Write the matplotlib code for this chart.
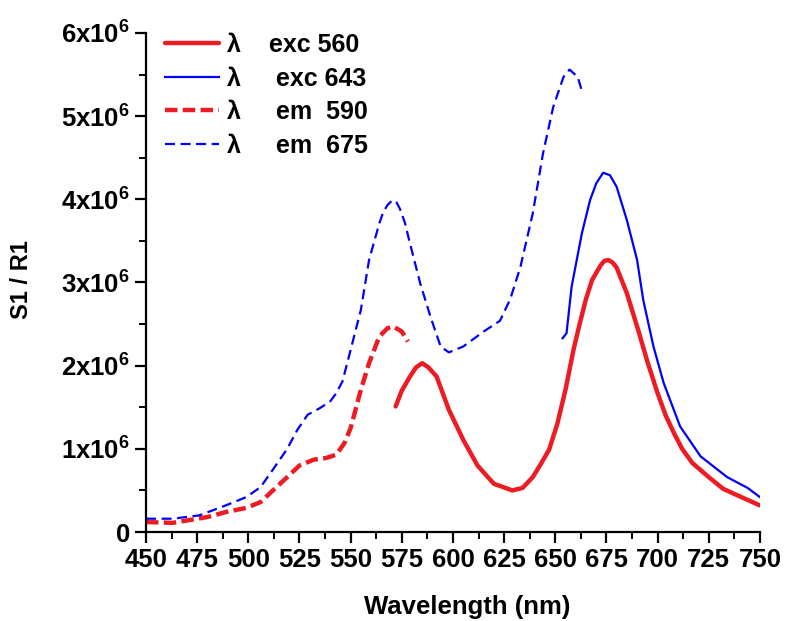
import matplotlib
matplotlib.use("Agg")
import matplotlib.pyplot as plt
from matplotlib.ticker import MultipleLocator, FixedLocator

# --- data (wavelength nm, signal in units of 1e6) ---
em590_x = [450, 463, 480, 489, 499, 506, 512, 519, 525, 532, 538, 543, 547, 550, 555, 559, 564, 568, 571, 575, 578]
em590_y = [0.12, 0.11, 0.18, 0.24, 0.29, 0.36, 0.50, 0.66, 0.80, 0.87, 0.89, 0.93, 1.07, 1.25, 1.71, 2.03, 2.35, 2.45, 2.47, 2.41, 2.29]

exc560_x = [572, 575, 579, 582, 585, 588, 592, 598, 605, 612, 620, 629, 634, 639, 643, 647, 651, 655, 659, 662, 665, 668, 672, 674, 676, 678, 680, 685, 691, 695, 700, 704, 708, 712, 717, 725, 732, 740, 750]
exc560_y = [1.51, 1.70, 1.87, 1.98, 2.03, 1.98, 1.87, 1.47, 1.11, 0.80, 0.58, 0.50, 0.53, 0.66, 0.82, 0.99, 1.30, 1.71, 2.20, 2.51, 2.80, 3.03, 3.20, 3.26, 3.27, 3.24, 3.18, 2.87, 2.39, 2.05, 1.67, 1.40, 1.19, 1.00, 0.83, 0.66, 0.52, 0.43, 0.32]

exc643_x = [653.6, 655.5, 658, 663, 667, 670, 673.4, 676.7, 680, 685, 690, 693, 698, 703, 711, 721, 734, 744, 750]
exc643_y = [2.33, 2.39, 2.95, 3.59, 3.99, 4.19, 4.32, 4.29, 4.15, 3.75, 3.27, 2.79, 2.23, 1.79, 1.27, 0.91, 0.66, 0.53, 0.42]

em675_x = [450, 463, 476, 489, 499, 506, 512, 519, 524, 529, 535, 540, 543, 546, 550, 555, 559, 564, 566, 568, 570, 571, 572.5, 574, 576.5, 579, 584, 589, 594, 598, 605, 615, 623, 628, 633, 639, 644, 649, 654, 657, 661, 663.4]
em675_y = [0.16, 0.16, 0.20, 0.32, 0.42, 0.54, 0.75, 1.00, 1.23, 1.41, 1.49, 1.57, 1.67, 1.81, 2.19, 2.67, 3.27, 3.71, 3.85, 3.93, 3.98, 3.99, 3.96, 3.89, 3.72, 3.47, 2.99, 2.59, 2.23, 2.16, 2.23, 2.41, 2.54, 2.80, 3.19, 3.83, 4.55, 5.11, 5.47, 5.56, 5.47, 5.27]

yticks = [0, 1, 2, 3, 4, 5, 6]
ytick_labels = ["0", "1x10$^{6}$", "2x10$^{6}$", "3x10$^{6}$", "4x10$^{6}$", "5x10$^{6}$", "6x10$^{6}$"]
xticks = list(range(450, 751, 25))

plt.rcParams["font.family"] = ["Liberation Sans", "DejaVu Sans"]
plt.rcParams["font.weight"] = "bold"
plt.rcParams["mathtext.default"] = "regular"

RED = "#ED1C24"
BLUE = "#0000FF"

fig = plt.figure(figsize=(7.85, 6.21), dpi=100)
ax = fig.add_axes([0.186, 0.1433, 0.782, 0.8036])

ax.plot(exc560_x, exc560_y, color=RED, lw=3.2, solid_capstyle="round", label="λ    exc 560")
ax.plot(exc643_x, exc643_y, color=BLUE, lw=1.6, label="λ     exc 643")
ax.plot(em590_x, em590_y, color=RED, lw=3.2, ls=(0, (2.8, 1.2)), label="λ     em  590")
ax.plot(em675_x, em675_y, color=BLUE, lw=1.6, ls=(0, (4.5, 2.5)), label="λ     em  675")

ax.set_xlim(450, 750)
ax.set_ylim(0, 6)
ax.xaxis.set_major_locator(FixedLocator(xticks))
ax.xaxis.set_minor_locator(MultipleLocator(12.5))
ax.yaxis.set_major_locator(FixedLocator(yticks))
ax.yaxis.set_minor_locator(MultipleLocator(0.5))
ax.set_yticklabels(ytick_labels)

for s in ["top", "right"]:
    ax.spines[s].set_visible(False)
for s in ["left", "bottom"]:
    ax.spines[s].set_linewidth(1.6)
ax.tick_params(which="major", direction="out", length=8, width=1.6, labelsize=18.5)
ax.tick_params(which="minor", direction="out", length=5, width=1.4)
for lab in ax.get_xticklabels() + ax.get_yticklabels():
    lab.set_fontweight("bold")

fig.text(467 / 785, 1 - 607 / 621, "Wavelength (nm)", fontsize=18.5, fontweight="bold",
         ha="center", va="center")
fig.text(22 / 785, 1 - 280 / 621, "S1 / R1", fontsize=17, fontweight="bold",
         rotation=90, ha="center", va="center")

leg = ax.legend(loc="upper left", bbox_to_anchor=(-0.005, 1.045), frameon=False,
                fontsize=18, handlelength=2.15, handletextpad=0.3, labelspacing=0.38)
for t in leg.get_texts():
    t.set_fontweight("bold")

fig.savefig("out.png", dpi=100)
